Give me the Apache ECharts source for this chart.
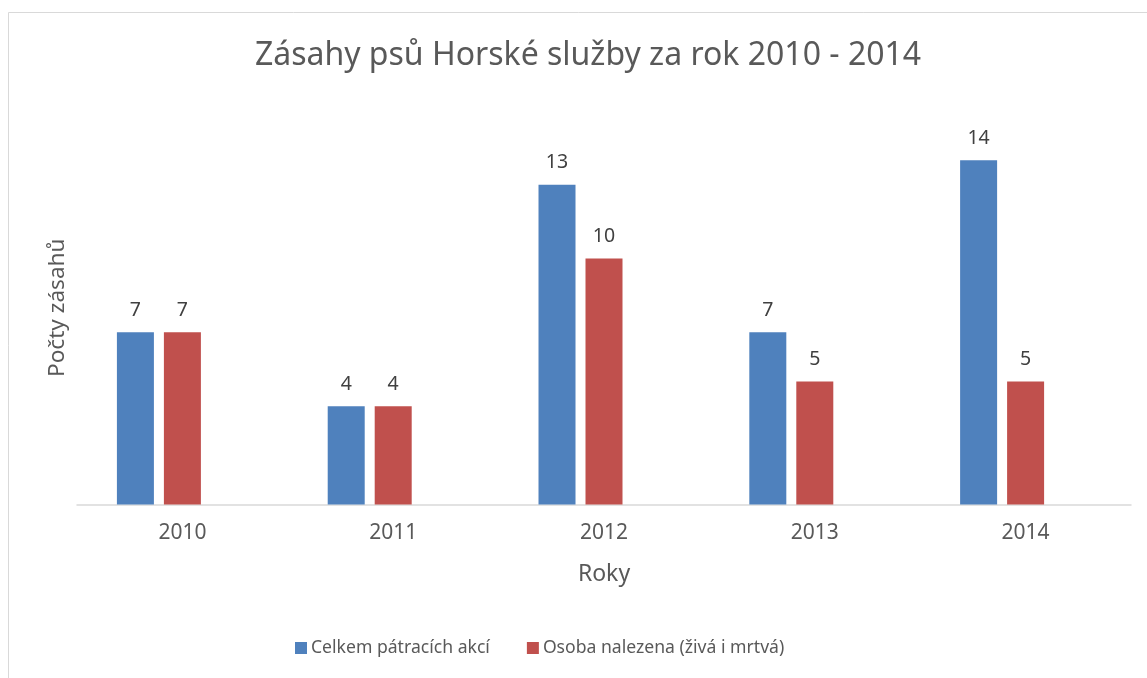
<!DOCTYPE html>
<html>
<head>
<meta charset="utf-8">
<script src="https://cdn.jsdelivr.net/npm/echarts@6/dist/echarts.min.js"></script>
<style>
  html, body { margin: 0; padding: 0; background: #fff; }
  #chart { width: 1147px; height: 678px; }
</style>
</head>
<body>
<div id="chart"></div>
<script>
const years = ['2010', '2011', '2012', '2013', '2014'];
const totalSearches = [7, 4, 13, 7, 14];
const personsFound = [7, 4, 10, 5, 5];
// Excel chart keeps a third, empty series: it shifts the bar pairs left
const emptySeries = ['-', '-', '-', '-', '-'];

const FONT = '"Noto Sans", "Open Sans", sans-serif';
const BLUE = '#4F81BD';
const RED = '#C0504D';

const chart = echarts.init(document.getElementById('chart'), null, { renderer: 'canvas' });

const labelStyle = {
  show: true,
  position: 'top',
  distance: 12,
  fontFamily: FONT,
  fontSize: 19.5,
  color: '#404040',
};

const option = {
  animation: false,
  backgroundColor: '#fff',
  graphic: [
    {
      type: 'rect',
      shape: { x: 8.5, y: 12.5, width: 1200, height: 800 },
      style: { fill: 'none', stroke: '#d9d9d9', lineWidth: 1 },
      silent: true,
    },
  ],
  title: {
    text: 'Zásahy psů Horské služby za rok 2010 - 2014',
    left: 583,
    top: 35,
    textAlign: 'center',
    textStyle: {
      fontFamily: FONT,
      fontSize: 32,
      fontWeight: 'normal',
      color: '#595959',
    },
  },
  legend: {
    data: ['Celkem pátracích akcí', 'Osoba nalezena (živá i mrtvá)'],
    left: 290,
    top: 634,
    itemWidth: 12,
    itemHeight: 12,
    itemGap: 37,
    icon: 'rect',
    textStyle: {
      fontFamily: FONT,
      fontSize: 17.6,
      color: '#595959',
      padding: [0, 0, 0, -1],
    },
  },
  grid: {
    left: 77,
    right: 16,
    top: 111,
    bottom: 173.5,
  },
  xAxis: {
    type: 'category',
    data: years,
    name: 'Roky',
    nameLocation: 'middle',
    nameGap: 58,
    nameTextStyle: {
      fontFamily: FONT,
      fontSize: 23,
      color: '#595959',
    },
    axisLine: { lineStyle: { color: '#d9d9d9', width: 1.5 } },
    axisTick: { show: false },
    axisLabel: {
      margin: 18,
      fontFamily: FONT,
      fontSize: 21,
      color: '#595959',
    },
  },
  yAxis: {
    type: 'value',
    min: 0,
    max: 16,
    interval: 2,
    name: 'Počty zásahů',
    nameLocation: 'middle',
    nameGap: 8,
    nameTextStyle: {
      fontFamily: FONT,
      fontSize: 22.6,
      color: '#595959',
    },
    axisLine: { show: false },
    axisTick: { show: false },
    axisLabel: { show: false },
    splitLine: { show: false },
  },
  series: [
    {
      name: 'Celkem pátracích akcí',
      type: 'bar',
      data: totalSearches,
      barWidth: 37,
      barGap: '27%',
      itemStyle: { color: BLUE },
      label: labelStyle,
    },
    {
      name: 'Osoba nalezena (živá i mrtvá)',
      type: 'bar',
      data: personsFound,
      barWidth: 37,
      barGap: '27%',
      itemStyle: { color: RED },
      label: labelStyle,
    },
    {
      name: 'empty',
      type: 'bar',
      data: emptySeries,
      barWidth: 37,
      barGap: '27%',
      itemStyle: { color: '#9BBB59' },
    },
  ],
};

chart.setOption(option);
</script>
</body>
</html>
